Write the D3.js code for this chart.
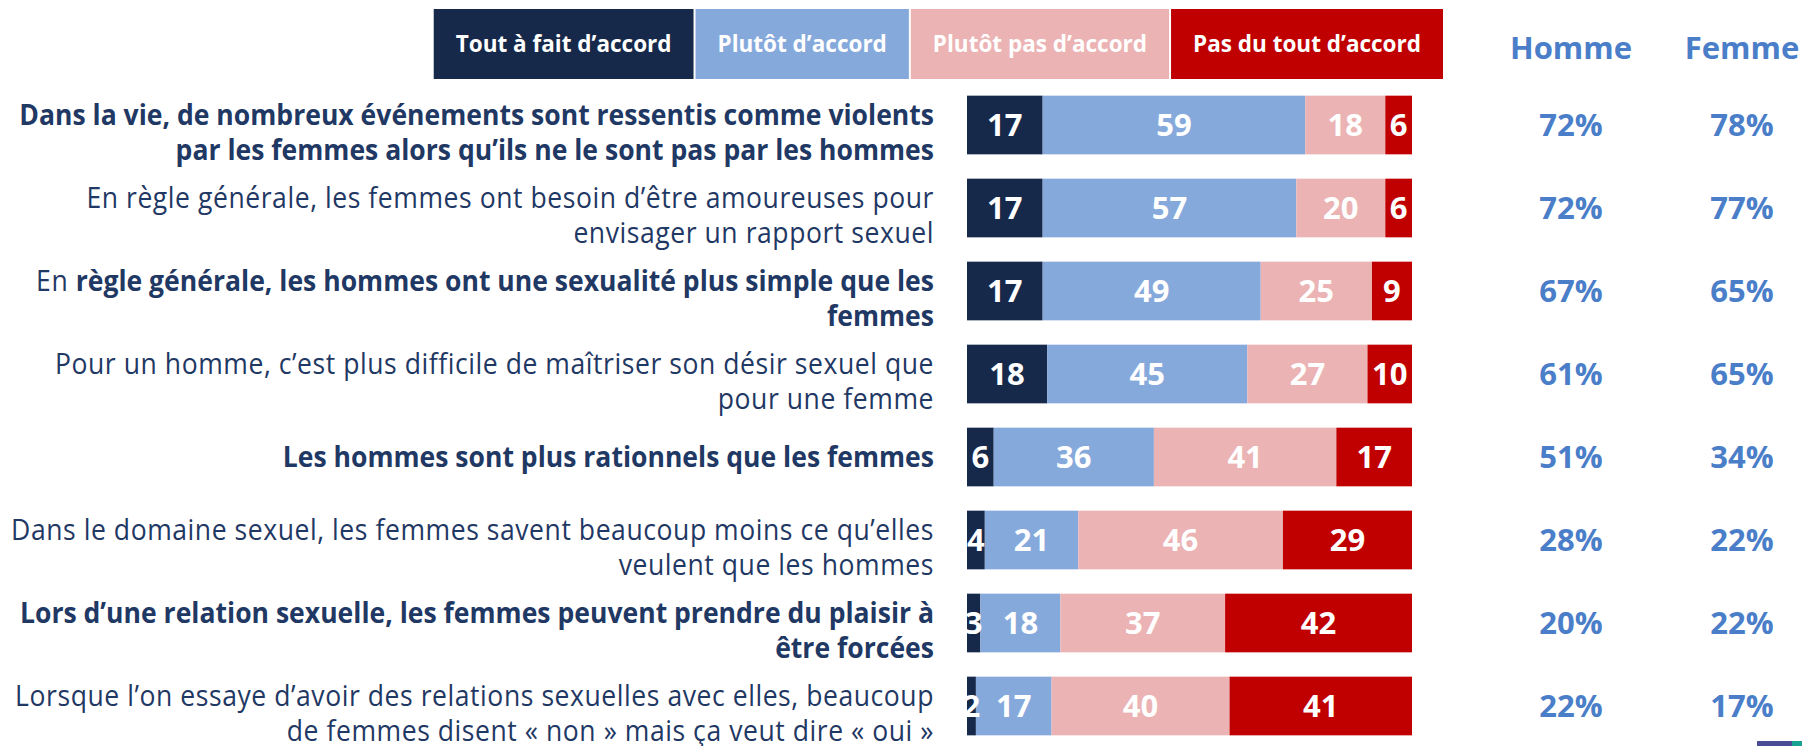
<!DOCTYPE html>
<html>
<head>
<meta charset="utf-8">
<script src="https://cdn.jsdelivr.net/npm/d3@7"></script>
<style>
body { margin: 0; background: #fff; }
text { font-family: "Open Sans", sans-serif; }
</style>
</head>
<body>
<svg id="chart" width="1802" height="746"></svg>
<script>
// categories of the answer scale
var categories = ["Tout à fait d’accord", "Plutôt d’accord", "Plutôt pas d’accord", "Pas du tout d’accord"];
var colors = ["#16294a", "#86a9dc", "#ebb3b3", "#c00000"];

// statements, one entry per line, *...* = bold
var statements = [
	["*Dans la vie, de nombreux événements sont ressentis comme violents*", "*par les femmes alors qu’ils ne le sont pas par les hommes*"],
	["En règle générale, les femmes ont besoin d’être amoureuses pour", "envisager un rapport sexuel"],
	["En *règle générale, les hommes ont une sexualité plus simple que les*", "*femmes*"],
	["Pour un homme, c’est plus difficile de maîtriser son désir sexuel que", "pour une femme"],
	["*Les hommes sont plus rationnels que les femmes*"],
	["Dans le domaine sexuel, les femmes savent beaucoup moins ce qu’elles", "veulent que les hommes"],
	["*Lors d’une relation sexuelle, les femmes peuvent prendre du plaisir à*", "*être forcées*"],
	["Lorsque l’on essaye d’avoir des relations sexuelles avec elles, beaucoup", "de femmes disent « non » mais ça veut dire « oui »"]
];

// series values (%)
var toutAFait = [17, 17, 17, 18, 6, 4, 3, 2];
var plutot    = [59, 57, 49, 45, 36, 21, 18, 17];
var plutotPas = [18, 20, 25, 27, 41, 46, 37, 40];
var pasDuTout = [6, 6, 9, 10, 17, 29, 42, 41];

// total agreement by gender
var genders = ["Homme", "Femme"];
var homme = [72, 72, 67, 61, 51, 28, 20, 22];
var femme = [78, 77, 65, 65, 34, 22, 22, 17];

var svg = d3.select("#chart");
var navy = "#1f3864", blue = "#4a7ec9";

var rows = statements.map(function(s, i){
	var r = {idx: i};
	r[categories[0]] = toutAFait[i];
	r[categories[1]] = plutot[i];
	r[categories[2]] = plutotPas[i];
	r[categories[3]] = pasDuTout[i];
	return r;
});

var xScale = d3.scaleLinear().domain([0, 100]).range([967, 1412]);
var yScale = d3.scaleBand()
	.domain(d3.range(statements.length))
	.range([83.5, 747.5])
	.paddingInner(0.293).paddingOuter(0.1465);
var colScale = d3.scalePoint().domain(genders).range([1571, 1742]);
var color = d3.scaleOrdinal().domain(categories).range(colors);

var series = d3.stack().keys(categories)(rows);

// legend
var legend = svg.append("g");
var legTexts = legend.selectAll("text").data(categories).enter().append("text")
	.attr("font-size", 22.5).attr("font-weight", "bold").attr("fill", "#fff")
	.attr("text-anchor", "middle")
	.text(function(d){ return d; });
var widths = [];
legTexts.each(function(){ widths.push(this.getComputedTextLength() + 44); });
var legRight = 1443, gap = 2;
var legX = [];
var cursor = legRight;
for (var k = categories.length - 1; k >= 0; k--) {
	cursor -= widths[k];
	legX[k] = cursor;
	cursor -= gap;
}
legend.selectAll("rect").data(categories).enter().insert("rect", "text")
	.attr("x", function(d, i){ return legX[i]; })
	.attr("y", 9).attr("width", function(d, i){ return widths[i]; }).attr("height", 70)
	.attr("fill", function(d){ return color(d); });
legTexts.attr("x", function(d, i){ return legX[i] + widths[i] / 2; }).attr("y", 52);

// headers
svg.selectAll("text.head").data(genders).enter().append("text")
	.attr("class", "head")
	.attr("x", function(d){ return colScale(d); }).attr("y", 59)
	.attr("text-anchor", "middle").attr("font-size", 31).attr("font-weight", "bold")
	.attr("fill", blue).text(function(d){ return d; });

// bars
svg.append("clipPath").attr("id", "plotClip").append("rect")
	.attr("x", xScale(0)).attr("y", 0).attr("width", xScale(100) - xScale(0)).attr("height", 746);

var layer = svg.selectAll("g.layer").data(series).enter().append("g")
	.attr("class", "layer").attr("fill", function(d){ return color(d.key); });
layer.selectAll("rect").data(function(d){ return d; }).enter().append("rect")
	.attr("x", function(d){ return xScale(d[0]); })
	.attr("y", function(d){ return yScale(d.data.idx); })
	.attr("width", function(d){ return xScale(d[1]) - xScale(d[0]); })
	.attr("height", yScale.bandwidth());

var valG = svg.append("g").attr("clip-path", "url(#plotClip)");
series.forEach(function(s){
	valG.selectAll(null).data(s).enter().append("text")
		.attr("x", function(d){ return (xScale(d[0]) + xScale(d[1])) / 2; })
		.attr("y", function(d){ return yScale(d.data.idx) + yScale.bandwidth() / 2; })
		.attr("dy", "0.36em")
		.attr("text-anchor", "middle").attr("font-size", 31).attr("font-weight", "bold")
		.attr("fill", "#fff")
		.text(function(d){ return d[1] - d[0]; });
});

// statement labels
var labelX = 934, lineGap = 35.5, squeeze = 0.916;
statements.forEach(function(lines, i){
	var cy = yScale(i) + yScale.bandwidth() / 2;
	var base = lines.length === 1 ? cy + 10 : cy;
	var g = svg.append("g").attr("transform", "translate(" + labelX + "," + base + ") scale(" + squeeze + ",1)");
	lines.forEach(function(line, j){
		var t = g.append("text").attr("x", 0).attr("y", j * lineGap)
			.attr("text-anchor", "end").attr("font-size", 29).attr("fill", navy);
		line.split("*").forEach(function(part, p){
			if (!part) return;
			t.append("tspan")
				.attr("font-weight", p % 2 ? "bold" : "normal")
				.attr("letter-spacing", p % 2 ? 0 : 0.6)
				.text(part);
		});
	});
});

// gender percentages
[homme, femme].forEach(function(vals, c){
	svg.selectAll(null).data(vals).enter().append("text")
		.attr("x", colScale(genders[c]))
		.attr("y", function(d, i){ return yScale(i) + yScale.bandwidth() / 2; })
		.attr("dy", "0.36em")
		.attr("text-anchor", "middle").attr("font-size", 31).attr("font-weight", "bold")
		.attr("fill", blue).text(function(d){ return d + "%"; });
});

// slide footer mark
svg.append("rect").attr("x", 1757).attr("y", 741).attr("width", 35).attr("height", 5).attr("fill", "#4b4c93");
svg.append("rect").attr("x", 1792).attr("y", 741).attr("width", 10).attr("height", 5).attr("fill", "#17a38f");
</script>
</body>
</html>
